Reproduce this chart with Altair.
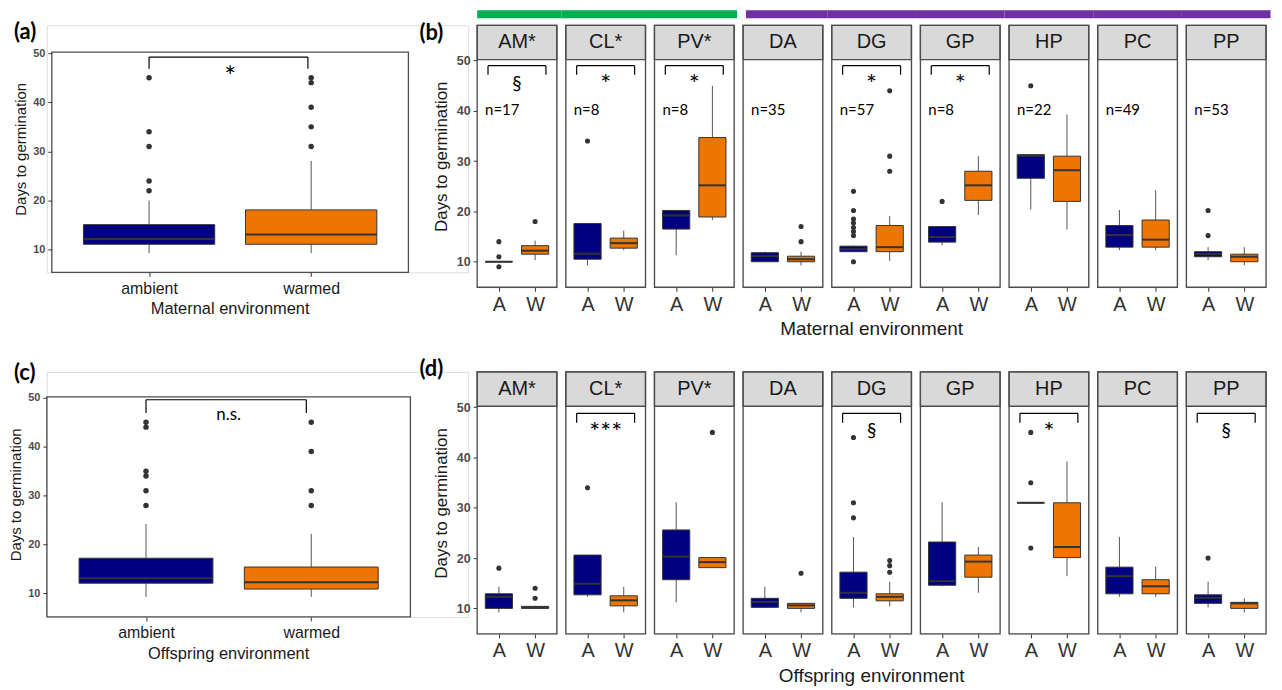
import altair as alt
import pandas as pd

# ---------------- data ----------------
species = ["AM*", "CL*", "PV*", "DA", "DG", "GP", "HP", "PC", "PP"]
species_group = ["g1", "g1", "g1", "g2", "g2", "g2", "g2", "g2", "g2"]
n_per_species = [17, 8, 8, 35, 57, 8, 22, 49, 53]
sig_maternal = ["§", "*", "*", "", "*", "*", "", "", ""]
sig_offspring = ["", "***", "", "", "§", "", "*", "", "§"]

pooled_levels = ["ambient", "warmed"]
# box statistics: (lower whisker, Q1, median, Q3, upper whisker)
pooled_maternal = [[9.3, 11.1, 12.2, 15.1, 20.0], [9.3, 11.1, 13.1, 18.1, 28.1]]
pooled_maternal_out = [[45, 34, 31, 24, 22], [45, 44, 39, 35, 31]]
pooled_offspring = [[9.3, 12.1, 13.1, 17.2, 24.2], [9.3, 10.9, 12.3, 15.4, 22.2]]
pooled_offspring_out = [[45, 44, 35, 34, 31, 28], [45, 39, 31, 28]]

maternal_A = [[10, 10, 10, 10, 10], [9.3, 10.5, 11.6, 17.6, 17.6], [11.3, 16.5, 19.2, 20.2, 20.2],
              [10, 10, 11.1, 11.8, 12], [12, 12, 12.5, 13.1, 13.2], [13.3, 13.9, 14.9, 17, 17],
              [20.4, 26.6, 31.1, 31.3, 31.3], [12.3, 12.9, 15.3, 17.2, 20.3], [10.3, 11, 11.5, 12, 12.9]]
maternal_W = [[10.3, 11.5, 12.2, 13.2, 14.2], [12.3, 12.7, 13.7, 14.7, 16.2], [18.3, 18.9, 25.2, 34.7, 45],
              [9.3, 10, 10.5, 11.1, 12], [10.2, 12, 12.9, 17.2, 19.1], [19.3, 22.2, 25.2, 28, 31],
              [16.4, 22, 28.2, 31, 39.3], [12.3, 12.9, 14.4, 18.3, 24.2], [9.3, 10, 11, 11.5, 12.9]]
maternal_A_out = [[14, 11, 9], [34], [], [], [24, 20.2, 18.5, 17.7, 16.8, 16, 15.2, 10], [22], [45], [], [20.2, 15.2]]
maternal_W_out = [[18], [], [], [17, 14], [44, 31, 28], [], [], [], []]

offspring_A = [[9.2, 10, 12.3, 12.9, 14.3], [12.3, 12.7, 14.9, 20.6, 20.6], [11.2, 15.7, 20.3, 25.6, 31.1],
               [10.2, 10.2, 11.3, 12, 14.3], [10.2, 12, 13.1, 17.2, 24.2], [14.4, 14.6, 15.4, 23.2, 31.1],
               [31, 31, 31, 31, 31], [12.3, 12.9, 16.4, 18.2, 24.2], [10.2, 11, 12.1, 12.7, 15.3]]
offspring_W = [[10, 10, 10.2, 10.4, 10.4], [9.2, 10.5, 11.6, 12.5, 14.3], [18.1, 18.1, 19.2, 20.1, 20.1],
               [9.2, 10, 10.6, 11, 11], [10.4, 11.5, 12.3, 12.9, 15.3], [13.1, 16.2, 19.3, 20.6, 22.2],
               [16.4, 20.1, 22.2, 31, 39.2], [12.3, 12.9, 14.4, 15.7, 18.3], [9.2, 10, 11, 11.2, 12]]
offspring_A_out = [[18], [34], [], [], [44, 31, 28], [], [45, 35, 22], [], [20]]
offspring_W_out = [[14, 12], [], [45], [17], [19.5, 18.5, 17.2], [], [], [], []]

# ---------------- styling ----------------
NAVY = "#000080"
ORANGE = "#EE7600"
DARK = "#333333"
BORDER = "#4D4D4D"
WHISK = "#555555"
STRIP = "#D9D9D9"
GREEN = "#00B050"
PURPLE = "#7030A0"
FONT = "Liberation Sans"
ANNO = "Lato"

cond_scale = alt.Scale(domain=["A", "W"], range=[NAVY, ORANGE])
Y_TICKS = [10, 20, 30, 40, 50]


def stats_df(stats):
    return pd.DataFrame({
        "cond": ["A", "W"], "xq": [1, 2],
        "lo": [s[0] for s in stats], "q1": [s[1] for s in stats], "med": [s[2] for s in stats],
        "q3": [s[3] for s in stats], "hi": [s[4] for s in stats]})


def out_df(outs):
    rows = [{"cond": c, "xq": i + 1, "val": v}
            for i, (c, vals) in enumerate(zip(["A", "W"], outs)) for v in vals]
    return pd.DataFrame(rows, columns=["cond", "xq", "val"])


def one():
    return pd.DataFrame({"t": [""]})


class Enc:
    def __init__(self, xs, ys, xaxis, yaxis):
        self.xs, self.ys, self.xaxis, self.yaxis = xs, ys, xaxis, yaxis

    def X(self, f):
        return alt.X(f, scale=self.xs, axis=self.xaxis)

    def Y(self, f):
        return alt.Y(f, scale=self.ys, axis=self.yaxis)

    def XD(self, v):
        return alt.X(datum=v, type="quantitative", scale=self.xs, axis=self.xaxis)

    def YD(self, v):
        return alt.Y(datum=v, type="quantitative", scale=self.ys, axis=self.yaxis)


def box_layers(e, stats, outs, half, pt_size):
    sd = stats_df(stats)
    od = out_df(outs)
    base = alt.Chart(sd).transform_calculate(xlo=f"datum.xq - {half}", xhi=f"datum.xq + {half}")
    layers = [
        base.mark_rule(color=WHISK, strokeWidth=1).encode(x=e.X("xq:Q"), y=e.Y("lo:Q"), y2="q1:Q"),
        base.mark_rule(color=WHISK, strokeWidth=1).encode(x=e.X("xq:Q"), y=e.Y("q3:Q"), y2="hi:Q"),
        base.mark_rect(stroke=DARK, strokeWidth=1).encode(
            x=e.X("xlo:Q"), x2="xhi:Q", y=e.Y("q1:Q"), y2="q3:Q",
            color=alt.Color("cond:N", scale=cond_scale, legend=None)),
        base.mark_rule(color=DARK, strokeWidth=2).encode(x=e.X("xlo:Q"), x2="xhi:Q", y=e.Y("med:Q")),
    ]
    if len(od):
        layers.append(alt.Chart(od).mark_circle(size=pt_size, color=DARK, opacity=1).encode(
            x=e.X("xq:Q"), y=e.Y("val:Q")))
    return layers


def frame(e, x0, x1, y0, y1):
    return alt.Chart(one()).mark_rect(fill="transparent", stroke=BORDER, strokeWidth=1.3).encode(
        x=e.XD(x0), x2=alt.X2(datum=x1), y=e.YD(y0), y2=alt.Y2(datum=y1))


def bracket(e, x0, x1, ytop, ybot):
    d = pd.DataFrame({"x": [x0, x0, x1], "x2": [x1, x0, x1],
                      "y": [ytop, ytop, ytop], "y2": [ytop, ybot, ybot]})
    return alt.Chart(d).mark_rule(color="black", strokeWidth=1.2).encode(
        x=e.X("x:Q"), x2="x2:Q", y=e.Y("y:Q"), y2="y2:Q")


def text_at(e, xv, yv, text, **kw):
    return alt.Chart(pd.DataFrame({"t": [text]})).mark_text(**kw).encode(
        x=e.XD(xv), y=e.YD(yv), text="t:N")


def text_px(px, py, text, **kw):
    return alt.Chart(pd.DataFrame({"t": [text]})).mark_text(**kw).encode(
        x=alt.value(px), y=alt.value(py), text="t:N")


def text_xd_py(e, xv, py, text, **kw):
    return alt.Chart(pd.DataFrame({"t": [text]})).mark_text(**kw).encode(
        x=e.XD(xv), y=alt.value(py), text="t:N")


def sig_text(e, label, xc, ytop):
    if label == "§":
        return text_at(e, xc, ytop - 3.6, label, font=ANNO, fontSize=19, baseline="middle",
                       align="center", color="black")
    return text_at(e, xc, ytop - 1.3, label, font=ANNO, fontSize=26, baseline="top",
                   align="center", color="black")


# ---------------- pooled panels (a) / (c) ----------------
COL0_W = 423


def pooled_panel(stats, outs, title, tag, inset_left, frame_w, frame_top, frame_h, ydom,
                 br, sig, sig_y, tag_pos):
    ppu_x = frame_w / 2.2
    xdom = [0.4 - inset_left / ppu_x, 0.4 + (COL0_W - inset_left) / ppu_x]
    ppu_y = frame_h / (ydom[1] - ydom[0])
    ytop = ydom[1] + frame_top / ppu_y
    height = frame_top + frame_h
    xs = alt.Scale(domain=xdom, nice=False, zero=False)
    ys = alt.Scale(domain=[ydom[0], ytop], nice=False, zero=False)
    xaxis = alt.Axis(values=[1, 2],
                     labelExpr=f"datum.value == 1 ? '{pooled_levels[0]}' : '{pooled_levels[1]}'",
                     title=None, labelFont=FONT, labelFontSize=16, labelColor="#1a1a1a", labelPadding=4,
                     labelFlush=False, labelOverlap=False,
                     tickSize=4, tickColor=DARK, domain=False, grid=False)
    yaxis = alt.Axis(values=Y_TICKS, title="Days to germination", titleFont=FONT, titleFontSize=15,
                     titleFontWeight="normal", titleColor="#1a1a1a", titlePadding=4,
                     labelFont=FONT, labelFontSize=11, labelFontWeight="bold", labelColor="#4d4d4d",
                     labelPadding=3, tickSize=4, tickColor=DARK, domain=False, grid=False,
                     offset=-inset_left)
    e = Enc(xs, ys, xaxis, yaxis)
    layers = box_layers(e, stats, outs, 0.405, 30)
    layers.append(frame(e, 0.4, 2.6, ydom[0], ydom[1]))
    layers.append(bracket(e, br[0], br[1], br[2], br[3]))
    if sig == "n.s.":
        layers.append(text_at(e, 1.5, sig_y, sig, font=ANNO, fontSize=17, baseline="middle",
                              align="center", color="black"))
    else:
        layers.append(text_at(e, 1.5, sig_y, sig, font=ANNO, fontSize=28, baseline="top",
                              align="center", color="black"))
    layers.append(text_xd_py(e, 1.5, height + 37, title, font=FONT, fontSize=16.5,
                             baseline="middle", align="center", color="#1a1a1a"))
    layers.append(text_px(tag_pos[0], tag_pos[1], tag, font=ANNO, fontSize=22, fontWeight="bold",
                          baseline="middle", align="left", color="black"))
    return alt.layer(*layers).properties(width=COL0_W, height=height)


# ---------------- species panels (b) / (d) ----------------
PW, PH = 80, 263
YDOM_S = [4.93, 57.03]
STRIP_LO = 50.2


def species_panel(i, stats_A, stats_W, out_A, out_W, sig, with_n, with_bar, tag, bk, xtitle):
    xs = alt.Scale(domain=[0.4, 2.6], nice=False, zero=False)
    ys = alt.Scale(domain=YDOM_S, nice=False, zero=False)
    xaxis = alt.Axis(values=[1, 2], labelExpr="datum.value == 1 ? 'A' : 'W'", title=None,
                     labelFont=FONT, labelFontSize=20, labelColor="#333333", labelPadding=3,
                     labelFlush=False, labelOverlap=False,
                     tickSize=4, tickColor=DARK, domain=False, grid=False)
    if i == 0:
        yaxis = alt.Axis(values=Y_TICKS, title="Days to germination", titleFont=FONT, titleFontSize=17,
                         titleFontWeight="normal", titleColor="#1a1a1a", titlePadding=6,
                         labelFont=FONT, labelFontSize=12.5, labelFontWeight="bold",
                         labelColor="#4d4d4d", labelPadding=3, tickSize=4, tickColor=DARK,
                         domain=False, grid=False)
    else:
        yaxis = None
    e = Enc(xs, ys, xaxis, yaxis)
    layers = []
    # strip
    layers.append(alt.Chart(one()).mark_rect(fill=STRIP, stroke=BORDER, strokeWidth=1.3).encode(
        x=e.XD(0.4), x2=alt.X2(datum=2.6), y=e.YD(STRIP_LO), y2=alt.Y2(datum=YDOM_S[1])))
    layers.append(text_at(e, 1.5, (STRIP_LO + YDOM_S[1]) / 2, species[i], font=FONT, fontSize=20,
                          baseline="middle", align="center", color="#1a1a1a"))
    # group colour bar above the strips
    if with_bar:
        g = species_group[i]
        left_ext, right_ext = 0.124, 0.124
        if i == 0:
            left_ext = 0.0
        if i + 1 < len(species) and species_group[i + 1] != g:
            right_ext = 0.08
        if i > 0 and species_group[i - 1] != g:
            left_ext = -0.08
        layers.append(alt.Chart(one()).mark_rect(fill=GREEN if g == "g1" else PURPLE).encode(
            x=e.XD(0.4 - left_ext), x2=alt.X2(datum=2.6 + right_ext),
            y=alt.value(-15), y2=alt.value(-7)))
    layers += box_layers(e, [stats_A, stats_W], [out_A, out_W], 0.375, 26)
    layers.append(frame(e, 0.4, 2.6, YDOM_S[0], YDOM_S[1]))
    if sig:
        layers.append(bracket(e, 0.7, 2.3, bk[0], bk[1]))
        layers.append(sig_text(e, sig, 1.5, bk[0]))
    if with_n:
        layers.append(text_at(e, 0.62, 40.1, f"n={n_per_species[i]}", font=ANNO, fontSize=15,
                              baseline="middle", align="left", color="black"))
    if tag:
        layers.append(text_px(-58, tag[1], tag[0], font=ANNO, fontSize=22, fontWeight="bold",
                              baseline="middle", align="left", color="black"))
    if xtitle:
        layers.append(text_xd_py(e, 1.5, PH + 42, xtitle, font=FONT, fontSize=19,
                                 baseline="middle", align="center", color="#1a1a1a"))
    return alt.layer(*layers).properties(width=PW, height=PH)


panels_b = [species_panel(i, maternal_A[i], maternal_W[i], maternal_A_out[i], maternal_W_out[i],
                          sig_maternal[i], True, True, ("(b)", 8) if i == 0 else None, (49.0, 47.2),
                          "Maternal environment" if i == 4 else None)
            for i in range(len(species))]
panels_d = [species_panel(i, offspring_A[i], offspring_W[i], offspring_A_out[i], offspring_W_out[i],
                          sig_offspring[i], False, False, ("(d)", -3) if i == 0 else None, (48.8, 46.9),
                          "Offspring environment" if i == 4 else None)
            for i in range(len(species))]

chart_a = pooled_panel(pooled_maternal, pooled_maternal_out, "Maternal environment", "(a)",
                       5, 358, 27, 221, [5.4, 50.2], (1.0, 1.98, 49.2, 46.8), "*", 47.8, (-33, 7))
chart_c = pooled_panel(pooled_offspring, pooled_offspring_out, "Offspring environment", "(c)",
                       0, 365, 25, 221, [5.2, 50.2], (1.0, 1.97, 49.6, 46.9), "n.s.", 46.5, (-33, 1))

chart = (alt.concat(chart_a, *panels_b, chart_c, *panels_d, columns=10,
                    spacing={"row": 85, "column": 9}, bounds="flush", align="each")
         .properties(padding={"left": 0, "top": 0, "right": 2, "bottom": 0})
         .configure_view(stroke="transparent")
         .configure(font=FONT))

chart.save("out.html", embed_options={"renderer": "svg", "actions": False})
